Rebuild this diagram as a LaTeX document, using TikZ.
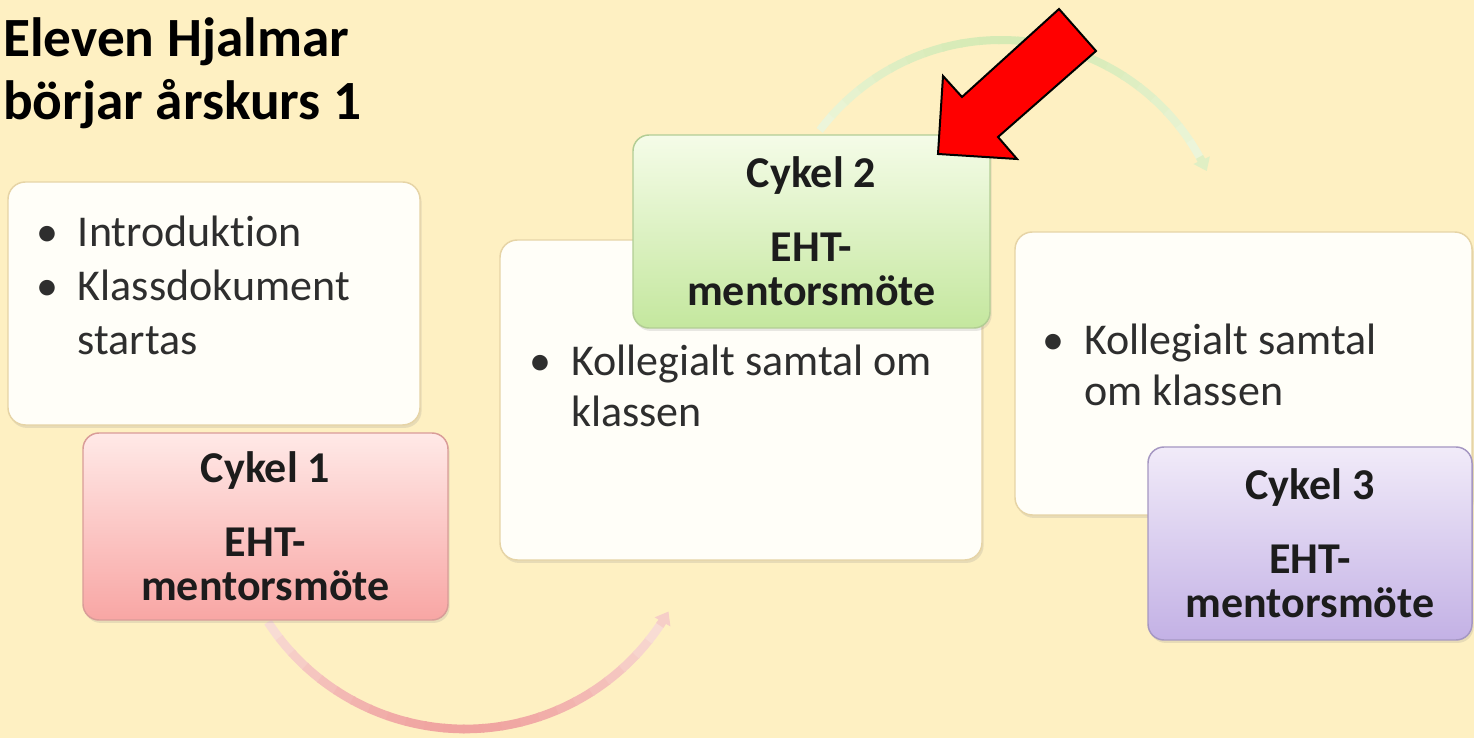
\documentclass[tikz,border=0pt]{standalone}
\usepackage{fontspec}
\setmainfont{Carlito}[Ligatures=CommonOff]
\usetikzlibrary{shadows,arrows.meta}
\definecolor{bg}{HTML}{FEF0C2}
\definecolor{wfill}{HTML}{FFFEF8}
\definecolor{wborder}{HTML}{E6D4A6}
\definecolor{pinktop}{HTML}{FFE9E7}
\definecolor{pinkbot}{HTML}{F8A6A4}
\definecolor{pinkline}{HTML}{D99C98}
\definecolor{greentop}{HTML}{F5FCE8}
\definecolor{greenbot}{HTML}{C4E79E}
\definecolor{greenline}{HTML}{B2CD94}
\definecolor{purptop}{HTML}{F1EBF9}
\definecolor{purpbot}{HTML}{C3B1E5}
\definecolor{purpline}{HTML}{A597C2}
\definecolor{btextc}{HTML}{2E2E2E}
\definecolor{ctext}{HTML}{1C1C1C}
\definecolor{pinkarc}{HTML}{F0A4A0}
\definecolor{pinkarclight}{HTML}{F9E0D8}
\definecolor{greenarc}{HTML}{D6EAB4}
\definecolor{greenarclight}{HTML}{EEF6DC}
\newcommand\bulitem{\makebox[23.25pt][l]{\makebox[0pt][c]{\textbullet}}}
\newcommand\bulcont{\hspace*{23.25pt}}
\begin{document}
\begin{tikzpicture}[x=0.75pt,y=0.75pt,
  sz/.style 2 args={minimum width=#1*0.75pt, minimum height=#2*0.75pt},
  shadowed/.style={drop shadow={opacity=0.18, shadow xshift=1.2pt, shadow yshift=-2.2pt}},
  wbox/.style={draw=wborder, line width=1.1pt, fill=wfill, rounded corners=13pt, inner sep=0pt, shadowed},
  cbox/.style={rounded corners=12pt, line width=1.1pt, inner sep=0pt, align=center, text=ctext,
    font=\bfseries\fontsize{33}{33}\selectfont, shadowed},
  pinkbox/.style={cbox, draw=pinkline, top color=pinktop, bottom color=pinkbot},
  greenbox/.style={cbox, draw=greenline, top color=greentop, bottom color=greenbot},
  purpbox/.style={cbox, draw=purpline, top color=purptop, bottom color=purpbot},
  btext/.style={anchor=base west, inner sep=0pt, text=btextc, font=\fontsize{33}{38}\selectfont},
  btextwide/.style={btext, font=\fontsize{33}{40.5}\selectfont},
  ttext/.style={anchor=base west, inner sep=0pt, text=black, font=\bfseries\fontsize{41.5}{46}\selectfont},
  bigarrow/.style={fill=red, draw=black, line width=1.5pt, line join=miter},
]
\fill[bg] (0,0) rectangle (1474,738);
\useasboundingbox (0,0) rectangle (1474,738);

% title
\node[ttext] (title1) at (3,681) {Eleven Hjalmar};
\node[ttext] (title2) at (3,618) {börjar årskurs 1};

% arcs (behind boxes)
\coordinate (arcA) at (465,244);
\foreach \i in {0,...,23} {
  \pgfmathsetmacro\t{100*sin(180*(\i+0.5)/24)}
  \pgfmathsetmacro\sa{213+\i*113/24}
  \pgfmathsetmacro\ea{213+(\i+1)*113/24+0.4}
  \draw[line width=6.5pt, pinkarc!\t!pinkarclight] ([shift={(\sa:176.25pt)}]arcA) arc[start angle=\sa, end angle=\ea, radius=176.25pt];
}
\draw[line width=6.5pt, pinkarclight!70!pinkarc, -{Triangle[length=9pt,width=13pt]}] ([shift={(326:176.25pt)}]arcA) arc[start angle=326, end angle=330, radius=176.25pt];

\coordinate (arcB) at (1001,471);
\foreach \i in {0,...,23} {
  \pgfmathsetmacro\t{100*sin(180*(\i+0.5)/24)}
  \pgfmathsetmacro\sa{143-\i*114/24}
  \pgfmathsetmacro\ea{143-(\i+1)*114/24-0.4}
  \draw[line width=6pt, greenarc!\t!greenarclight] ([shift={(\sa:170.25pt)}]arcB) arc[start angle=\sa, end angle=\ea, radius=170.25pt];
}
\draw[line width=6pt, greenarc!60!greenarclight, -{Triangle[length=9pt,width=13pt]}] ([shift={(29:170.25pt)}]arcB) arc[start angle=29, end angle=25, radius=170.25pt];

% cycle 1
\node[wbox, sz={412}{243}] (b1) at (214,434.5) {};
\node[btextwide] (t1) at (46.7,491) {\begin{tabular}[t]{@{}l@{}}\bulitem Introduktion\\ \bulitem Klassdokument\\ \bulcont startas\end{tabular}};
\node[pinkbox, sz={365}{187}] (c1) at (265.5,211.5) {Cykel 1\\[22.5pt]EHT-\\mentorsmöte};

% cycle 2
\node[wbox, sz={482}{320}] (b2) at (741,338) {};
\node[btext] (t2) at (540,362) {\begin{tabular}[t]{@{}l@{}}\bulitem Kollegialt samtal om\\ \bulcont klassen\end{tabular}};
\node[greenbox, sz={357}{193}] (c2) at (811.5,506.5) {Cykel 2\\[22.5pt]EHT-\\mentorsmöte};

% cycle 3
\node[wbox, sz={457}{283}] (b3) at (1243.5,364.5) {};
\node[btext] (t3) at (1053,383) {\begin{tabular}[t]{@{}l@{}}\bulitem Kollegialt samtal\\ \bulcont om klassen\end{tabular}};
\node[purpbox, sz={324}{193}] (c3) at (1310,194.5) {Cykel 3\\[22.5pt]EHT-\\mentorsmöte};

% red arrow pointing at cycle 2
\draw[bigarrow] (938,584) -- (943,662) -- (962,641) -- (1059,729) -- (1096,687) -- (998,601) -- (1017,579) -- cycle;
\end{tikzpicture}
\end{document}
